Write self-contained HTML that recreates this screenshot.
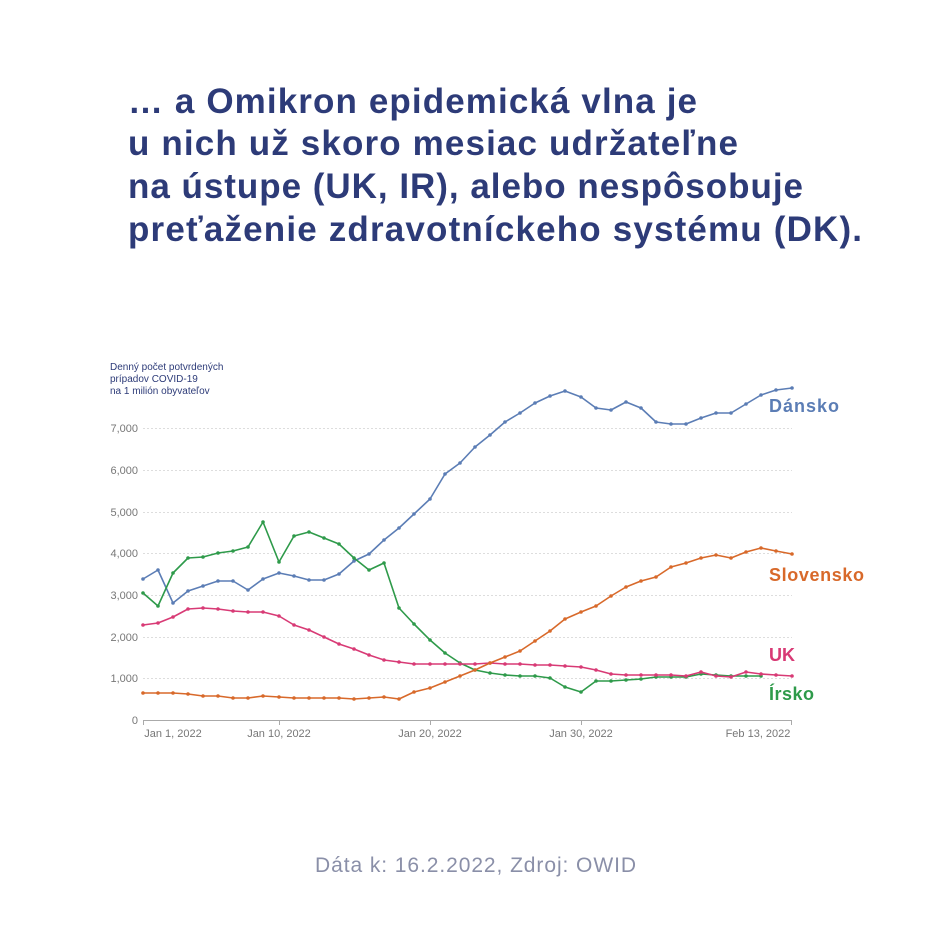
<!DOCTYPE html>
<html><head><meta charset="utf-8"><style>
html,body{margin:0;padding:0;background:#fff;width:950px;height:950px;overflow:hidden}
</style></head><body>
<svg width="950" height="950" viewBox="0 0 950 950" xmlns="http://www.w3.org/2000/svg">
<defs>
<marker id="mb" markerWidth="4" markerHeight="4" refX="2" refY="2" markerUnits="userSpaceOnUse"><circle cx="2" cy="2" r="1.8" fill="#5b7db5"/></marker>
<marker id="mg" markerWidth="4" markerHeight="4" refX="2" refY="2" markerUnits="userSpaceOnUse"><circle cx="2" cy="2" r="1.8" fill="#2e9a4a"/></marker>
<marker id="mp" markerWidth="4" markerHeight="4" refX="2" refY="2" markerUnits="userSpaceOnUse"><circle cx="2" cy="2" r="1.8" fill="#d83a75"/></marker>
<marker id="mo" markerWidth="4" markerHeight="4" refX="2" refY="2" markerUnits="userSpaceOnUse"><circle cx="2" cy="2" r="1.8" fill="#d8692a"/></marker>
</defs>
<rect width="950" height="950" fill="#fff"/>
<g font-family="'Liberation Sans',sans-serif" font-weight="bold" font-size="35" fill="#2d3b78" lengthAdjust="spacing">
<text x="128" y="113" textLength="569">… a Omikron epidemická vlna je</text>
<text x="128" y="155" textLength="610">u nich už skoro mesiac udržateľne</text>
<text x="128" y="198" textLength="675">na ústupe (UK, IR), alebo nespôsobuje</text>
<text x="128" y="241" textLength="734">preťaženie zdravotníckeho systému (DK).</text>
</g>
<g font-family="'Liberation Sans',sans-serif" font-size="10" fill="#2d3b78">
<text x="110" y="370">Denný počet potvrdených</text>
<text x="110" y="382">prípadov COVID-19</text>
<text x="110" y="394">na 1 milión obyvateľov</text>
</g>
<g stroke="#ddd" stroke-dasharray="2,2" stroke-width="1">
<line x1="143" x2="792" y1="428.5" y2="428.5"/><line x1="143" x2="792" y1="470.5" y2="470.5"/>
<line x1="143" x2="792" y1="512.5" y2="512.5"/><line x1="143" x2="792" y1="553.5" y2="553.5"/>
<line x1="143" x2="792" y1="595.5" y2="595.5"/><line x1="143" x2="792" y1="637.5" y2="637.5"/>
<line x1="143" x2="792" y1="678.5" y2="678.5"/>
</g>
<g font-family="'Liberation Sans',sans-serif" font-size="11" fill="#777" text-anchor="end">
<text x="138" y="432">7,000</text><text x="138" y="474">6,000</text><text x="138" y="516">5,000</text>
<text x="138" y="557">4,000</text><text x="138" y="599">3,000</text><text x="138" y="641">2,000</text>
<text x="138" y="682">1,000</text><text x="138" y="724">0</text>
</g>
<g stroke="#aaa" stroke-width="1">
<line x1="143" x2="792" y1="720.5" y2="720.5"/>
<line x1="143.5" x2="143.5" y1="720" y2="725"/><line x1="279.5" x2="279.5" y1="720" y2="725"/>
<line x1="430.5" x2="430.5" y1="720" y2="725"/><line x1="581.5" x2="581.5" y1="720" y2="725"/>
<line x1="791.5" x2="791.5" y1="720" y2="725"/>
</g>
<g font-family="'Liberation Sans',sans-serif" font-size="11" fill="#777" text-anchor="middle">
<text x="173" y="737">Jan 1, 2022</text><text x="279" y="737">Jan 10, 2022</text>
<text x="430" y="737">Jan 20, 2022</text><text x="581" y="737">Jan 30, 2022</text>
<text x="758" y="737">Feb 13, 2022</text>
</g>
<g fill="none" stroke-width="1.6" stroke-linejoin="round">
<polyline stroke="#5b7db5" marker-start="url(#mb)" marker-mid="url(#mb)" marker-end="url(#mb)" points="143,579 158,570 173,603 188,591 203,586 218,581 233,581 248,590 263,579 279,573 294,576 309,580 324,580 339,574 354,561 369,554 384,540 399,528 414,514 430,499 445,474 460,463 475,447 490,435 505,422 520,413 535,403 550,396 565,391 581,397 596,408 611,410 626,402 641,408 656,422 671,424 686,424 701,418 716,413 731,413 746,404 761,395 776,390 792,388"/>
<polyline stroke="#2e9a4a" marker-start="url(#mg)" marker-mid="url(#mg)" marker-end="url(#mg)" points="143,593 158,606 173,573 188,558 203,557 218,553 233,551 248,547 263,522 279,562 294,536 309,532 324,538 339,544 354,558 369,570 384,563 399,608 414,624 430,640 445,653 460,663 475,670 490,673 505,675 520,676 535,676 550,678 565,687 581,692 596,681 611,681 626,680 641,679 656,677 671,677 686,677 701,674 716,675 731,676 746,676 761,676"/>
<polyline stroke="#d83a75" marker-start="url(#mp)" marker-mid="url(#mp)" marker-end="url(#mp)" points="143,625 158,623 173,617 188,609 203,608 218,609 233,611 248,612 263,612 279,616 294,625 309,630 324,637 339,644 354,649 369,655 384,660 399,662 414,664 430,664 445,664 460,664 475,664 490,663 505,664 520,664 535,665 550,665 565,666 581,667 596,670 611,674 626,675 641,675 656,675 671,675 686,676 701,672 716,676 731,677 746,672 761,674 776,675 792,676"/>
<polyline stroke="#d8692a" marker-start="url(#mo)" marker-mid="url(#mo)" marker-end="url(#mo)" points="143,693 158,693 173,693 188,694 203,696 218,696 233,698 248,698 263,696 279,697 294,698 309,698 324,698 339,698 354,699 369,698 384,697 399,699 414,692 430,688 445,682 460,676 475,670 490,663 505,657 520,651 535,641 550,631 565,619 581,612 596,606 611,596 626,587 641,581 656,577 671,567 686,563 701,558 716,555 731,558 746,552 761,548 776,551 792,554"/>
</g>
<g font-family="'Liberation Sans',sans-serif" font-weight="bold" font-size="18" lengthAdjust="spacing">
<text x="769" y="412" fill="#5b7db5" textLength="70">Dánsko</text>
<text x="769" y="581" fill="#d8692a" textLength="95">Slovensko</text>
<text x="769" y="661" fill="#d83a75">UK</text>
<text x="769" y="700" fill="#2e9a4a" textLength="45">Írsko</text>
</g>
<text x="315" y="872" textLength="321" lengthAdjust="spacing" font-family="'Liberation Sans',sans-serif" font-size="21" fill="#8a8fa8">Dáta k: 16.2.2022, Zdroj: OWID</text>
</svg>
</body></html>
